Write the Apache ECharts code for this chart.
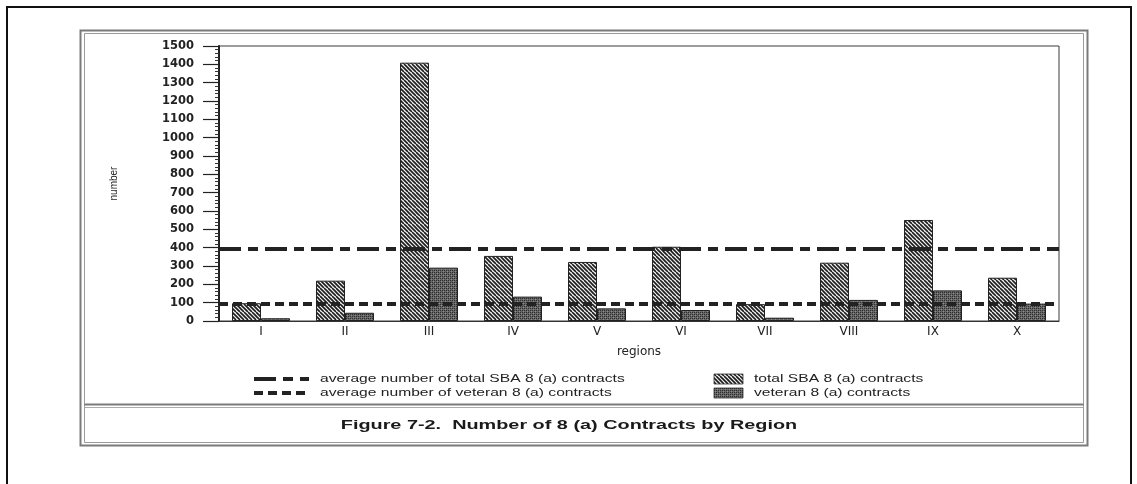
<!DOCTYPE html>
<html>
<head>
<meta charset="utf-8">
<script src="https://cdn.jsdelivr.net/npm/echarts@6/dist/echarts.min.js"></script>
<style>
html,body{margin:0;padding:0;background:#fff;}
#chart{width:1137px;height:484px;}
</style>
</head>
<body>
<div id="chart"></div>
<script>
// ---- data ----
var regions = ['I','II','III','IV','V','VI','VII','VIII','IX','X'];
var totalContracts = [97, 220, 1409, 355, 322, 405, 92, 318, 551, 236];
var veteranContracts = [15, 45, 291, 133, 69, 60, 18, 115, 167, 95];
var avgTotal = 393;
var avgVeteran = 96;
var yTicks = {min: 0, max: 1500, interval: 100};
var legendLabels = [
  'average number of total SBA 8 (a) contracts',
  'average number of veteran 8 (a) contracts',
  'total SBA 8 (a) contracts',
  'veteran 8 (a) contracts'
];
var captionText = 'Figure 7-2.  Number of 8 (a) Contracts by Region';

// ---- patterns ----
function hatchCanvas() {
  var c = document.createElement('canvas');
  c.width = 8; c.height = 8;
  var g = c.getContext('2d');
  g.fillStyle = '#f2f2f2';
  g.fillRect(0, 0, 8, 8);
  g.strokeStyle = '#1a1a1a';
  g.lineWidth = 1.6;
  for (var k = -8; k <= 8; k += 4) {
    g.beginPath();
    g.moveTo(k, 0);
    g.lineTo(k + 8, 8);
    g.stroke();
  }
  return c;
}
function stippleCanvas() {
  var c = document.createElement('canvas');
  c.width = 4; c.height = 4;
  var g = c.getContext('2d');
  g.fillStyle = '#666666';
  g.fillRect(0, 0, 4, 4);
  g.fillStyle = '#2e2e2e';
  g.fillRect(0, 0, 1, 1); g.fillRect(2, 2, 1, 1);
  g.fillRect(2, 0, 1, 1); g.fillRect(0, 2, 1, 1);
  g.fillStyle = '#8a8a8a';
  g.fillRect(1, 1, 1, 1); g.fillRect(3, 3, 1, 1);
  return c;
}
var hatch = {image: hatchCanvas(), repeat: 'repeat'};
var stipple = {image: stippleCanvas(), repeat: 'repeat'};

var dashDot = [22, 7, 10, 7];
var dashed = [9, 5];
var textFont = '11px "Liberation Sans", Arial, sans-serif';

var chart = echarts.init(document.getElementById('chart'), null, {renderer: 'canvas'});
chart.setOption({
  animation: false,
  backgroundColor: '#ffffff',
  grid: {left: 219, right: 78, top: 46, bottom: 163, show: true, borderColor: '#3a3a3a', borderWidth: 1, containLabel: false},
  xAxis: {
    type: 'category',
    data: regions,
    name: 'regions',
    nameLocation: 'middle',
    nameGap: 25,
    nameTextStyle: {fontFamily: 'DejaVu Sans', fontSize: 12, color: '#222'},
    axisLine: {show: true, lineStyle: {color: '#333', width: 1}},
    axisTick: {show: false},
    axisLabel: {margin: 5, fontFamily: 'DejaVu Sans', fontSize: 12, color: '#222'},
    splitLine: {show: false}
  },
  yAxis: {
    type: 'value',
    min: yTicks.min, max: yTicks.max, interval: yTicks.interval,
    name: 'number',
    nameLocation: 'middle',
    nameRotate: 90,
    nameGap: 100,
    nameTextStyle: {fontFamily: '"Liberation Sans", Arial, sans-serif', fontSize: 10, color: '#222'},
    axisLine: {show: true, lineStyle: {color: '#222', width: 2}},
    axisTick: {show: true, inside: false, length: 16, lineStyle: {color: '#222', width: 1.2}},
    minorTick: {show: true, splitNumber: 5, length: 4, lineStyle: {color: '#333', width: 1}},
    axisLabel: {margin: 25, fontFamily: 'DejaVu Sans', fontSize: 11.5, fontWeight: 'bold', color: '#222',
      formatter: function (v) { return String(v); }},
    splitLine: {show: false}
  },
  series: [
    {
      name: legendLabels[2], type: 'bar', data: totalContracts,
      barWidth: 29, barGap: '0%',
      itemStyle: {color: hatch, borderColor: '#222', borderWidth: 1},
      z: 2
    },
    {
      name: legendLabels[3], type: 'bar', data: veteranContracts,
      barWidth: 29, barGap: '0%',
      itemStyle: {color: stipple, borderColor: '#222', borderWidth: 1},
      z: 2
    },
    {
      name: 'averages', type: 'line', data: [], z: 5, silent: true,
      markLine: {
        silent: true, symbol: ['none', 'none'], label: {show: false},
        data: [
          {yAxis: avgTotal, lineStyle: {color: '#222', width: 4, type: dashDot}},
          {yAxis: avgVeteran, lineStyle: {color: '#222', width: 4, type: dashed}}
        ]
      }
    }
  ],
  graphic: [
    // outer page frame
    {type: 'rect', shape: {x: 7, y: 7, width: 1124, height: 600}, style: {fill: 'none', stroke: '#111', lineWidth: 2}, silent: true},
    // inner double frame
    {type: 'rect', shape: {x: 80.5, y: 30.5, width: 1007, height: 415}, style: {fill: 'none', stroke: '#7a7a7a', lineWidth: 2}, silent: true},
    {type: 'rect', shape: {x: 84.5, y: 33.5, width: 999, height: 409}, style: {fill: 'none', stroke: '#9a9a9a', lineWidth: 1}, silent: true},
    {type: 'line', shape: {x1: 84.5, y1: 404.5, x2: 1083.5, y2: 404.5}, style: {stroke: '#7a7a7a', lineWidth: 1.8}, silent: true},
    {type: 'line', shape: {x1: 84.5, y1: 407.5, x2: 1083.5, y2: 407.5}, style: {stroke: '#aaaaaa', lineWidth: 1}, silent: true},
    // legend: line samples
    {type: 'line', shape: {x1: 254, y1: 379, x2: 309, y2: 379}, style: {stroke: '#222', lineWidth: 4, lineDash: dashDot}, silent: true},
    {type: 'line', shape: {x1: 254, y1: 393, x2: 309, y2: 393}, style: {stroke: '#222', lineWidth: 4, lineDash: dashed}, silent: true},
    {type: 'text', x: 320, y: 379, scaleX: 1.42, style: {text: legendLabels[0], font: textFont, fill: '#222', textAlign: 'left', textVerticalAlign: 'middle'}, silent: true},
    {type: 'text', x: 320, y: 393, scaleX: 1.42, style: {text: legendLabels[1], font: textFont, fill: '#222', textAlign: 'left', textVerticalAlign: 'middle'}, silent: true},
    // legend: swatches
    {type: 'rect', shape: {x: 714, y: 374, width: 29, height: 10}, style: {fill: hatch, stroke: '#333', lineWidth: 0.8}, silent: true},
    {type: 'rect', shape: {x: 714, y: 388, width: 29, height: 10}, style: {fill: stipple, stroke: '#333', lineWidth: 0.8}, silent: true},
    {type: 'text', x: 754, y: 379, scaleX: 1.42, style: {text: legendLabels[2], font: textFont, fill: '#222', textAlign: 'left', textVerticalAlign: 'middle'}, silent: true},
    {type: 'text', x: 754, y: 393, scaleX: 1.42, style: {text: legendLabels[3], font: textFont, fill: '#222', textAlign: 'left', textVerticalAlign: 'middle'}, silent: true},
    // caption
    {type: 'text', x: 569, y: 425, scaleX: 1.47, style: {text: captionText, font: 'bold 13.5px "Liberation Sans", Arial, sans-serif', fill: '#1a1a1a', textAlign: 'center', textVerticalAlign: 'middle'}, silent: true}
  ]
});
</script>
</body>
</html>
